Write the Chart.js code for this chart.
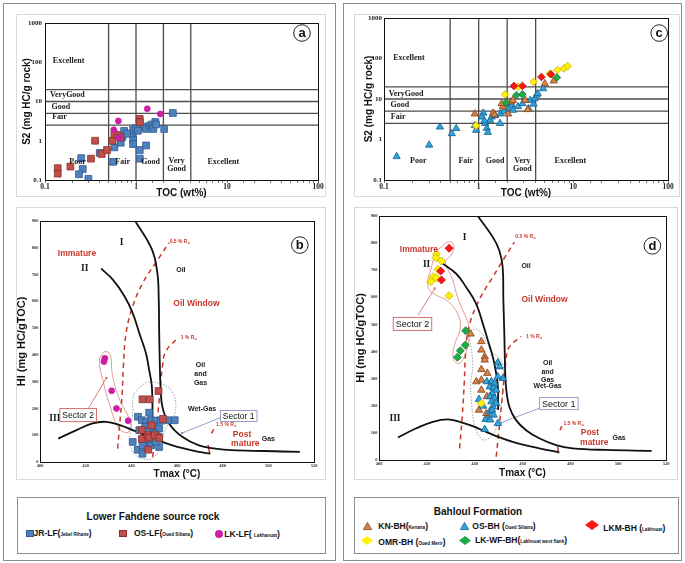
<!DOCTYPE html>
<html><head><meta charset="utf-8">
<script src="https://cdn.jsdelivr.net/npm/chart.js@4.4.1/dist/chart.umd.min.js"></script>
<style>
html,body{margin:0;padding:0;background:#fff}
#wrap{position:relative;width:685px;height:563px;overflow:hidden;font-family:Arial,"Liberation Sans",sans-serif}
canvas{position:absolute;left:0;top:0}
.bx{position:absolute;box-sizing:border-box}
.t{position:absolute;white-space:nowrap;font-weight:bold;color:#111;line-height:1;font-size:8.5px}
.s{font-size:4.6px}
svg.m{position:absolute;overflow:visible}
</style></head><body><div id="wrap">
<div class="bx" style="left:3px;top:3px;width:333px;height:558px;border:1px solid #8c8c8c"></div>
<div class="bx" style="left:343px;top:3px;width:339px;height:558px;border:1px solid #8c8c8c"></div>
<div class="bx" style="left:16px;top:14px;width:310px;height:183px;border:1px solid #dadada"></div>
<div class="bx" style="left:16px;top:207px;width:310px;height:273px;border:1px solid #dadada"></div>
<div class="bx" style="left:354px;top:14px;width:326px;height:183px;border:1px solid #dadada"></div>
<div class="bx" style="left:354px;top:207px;width:324px;height:273px;border:1px solid #dadada"></div>
<div class="bx" style="left:17px;top:497px;width:309px;height:57px;border:1px solid #8f8f8f"></div>
<div class="bx" style="left:354px;top:497px;width:325px;height:57px;border:1px solid #8f8f8f"></div>

<div class="t" style="left:53px;width:200px;text-align:center;top:512px;font-size:10px">Lower Fahdene source rock</div>
<div class="bx" style="left:26px;top:529.5px;width:7.5px;height:7.5px;background:#4f81bd;border:0.8px solid #2e5b90"></div>
<div class="t" style="left:33.5px;top:529.3px">JR-LF(<span class="s">Jebel Rihane</span>)</div>
<div class="bx" style="left:119px;top:529.5px;width:7.5px;height:7.5px;background:#c0504d;border:0.8px solid #8c2d2a"></div>
<div class="t" style="left:134px;top:529.3px">OS-LF(<span class="s">Oued Siliana</span>)</div>
<div class="bx" style="left:215px;top:530px;width:8px;height:8px;background:#cc1ea4;border-radius:50%"></div>
<div class="t" style="left:224.3px;top:529.8px">LK-LF( <span class="s">Lakhaouat</span>)</div>

<div class="t" style="left:398px;width:160px;text-align:center;top:506.7px;font-size:10px">Bahloul Formation</div>
<svg class="m" style="left:362.8px;top:521.7px" width="9" height="8"><polygon points="4.5,0.4 8.6,7.6 0.4,7.6" fill="#d9824a" stroke="#7d4216" stroke-width="0.8"/></svg>
<div class="t" style="left:378.3px;top:521.7px">KN-BH(<span class="s">Kenana</span>)</div>
<svg class="m" style="left:459.5px;top:521.7px" width="9" height="8"><polygon points="4.5,0.4 8.6,7.6 0.4,7.6" fill="#2aa6e0" stroke="#1b5a86" stroke-width="0.8"/></svg>
<div class="t" style="left:472.3px;top:521.7px">OS-BH (<span class="s">Oued Siliana</span>)</div>
<svg class="m" style="left:584.7px;top:520px" width="14" height="10"><polygon points="7,0 14,5 7,10 0,5" fill="#ff1414"/></svg>
<div class="t" style="left:603.3px;top:524.3px">LKM-BH (<span class="s">Lakhouat</span>)</div>
<svg class="m" style="left:361.3px;top:535.5px" width="12" height="9"><polygon points="6,0 12,4.5 6,9 0,4.5" fill="#fff200"/></svg>
<div class="t" style="left:378.3px;top:537.8px">OMR-BH (<span class="s">Oued Merir</span>)</div>
<svg class="m" style="left:459px;top:535.5px" width="12" height="9"><polygon points="6,0 12,4.5 6,9 0,4.5" fill="#1faa48"/></svg>
<div class="t" style="left:475px;top:536.3px">LK-WF-BH(<span class="s">Lakhouat west flank</span>)</div>

<canvas id="ca" width="685" height="563"></canvas>
<canvas id="cb" width="685" height="563"></canvas>
<canvas id="cc" width="685" height="563"></canvas>
<canvas id="cd" width="685" height="563"></canvas>
</div>
<script>
// ---------- Panel a : S2 vs TOC (Lower Fahdene) ----------
const aJR_TOC = [0.25,0.26,0.236,0.30,0.40,0.56,0.58,0.68,0.70,0.74,0.71,0.91,0.93,1.0,0.93,0.93,1.1,1.1,1.29,1.22,1.29,1.43,1.5,1.55,1.63,1.66,2.04,2.54,0.80,1.05];
const aJR_S2  = [0.36,0.19,0.14,0.107,0.49,0.29,0.68,0.89,1.23,1.78,1.3,1.55,1.9,2.1,1.06,0.82,0.58,0.35,0.76,2.3,2.0,2.4,2.6,2.0,3.0,2.6,2.0,5.1,1.5,1.8];
const aOS_TOC = [0.138,0.138,0.19,0.32,0.355,0.42,0.48,0.55,0.58,0.63,0.67,1.1,1.1];
const aOS_S2  = [0.2,0.145,0.22,0.35,1.0,0.46,0.58,1.0,1.45,1.4,1.2,3.6,3.0];
const aLK_TOC = [0.57,0.64,0.65,1.33,1.85];
const aLK_S2  = [1.9,3.2,1.2,6.5,4.8];

// ---------- Panel c : S2 vs TOC (Bahloul) ----------
const cOS_TOC = [0.136,0.30,0.39,0.52,0.58,0.91,0.94,1.12,1.08,1.17,1.22,1.25,1.32,1.37,1.7,1.68,1.98,2.05,2.24,2.3,2.9,3.35,3.5,3.8,3.9,4.1,4.2,4.8,1.5,1.85,2.6,1.15];
const cOS_S2  = [0.38,0.73,2.04,1.4,1.87,2.2,1.7,4.5,3.6,2.5,1.9,1.5,3.0,3.6,4.3,2.5,7.7,5.8,7.1,5.3,7.7,5.8,9.3,7.5,10.2,12.5,13.7,18,3.9,5.0,6.5,2.9];
const cKN_TOC = [0.91,1.42,1.47,1.8,2.05,2.2,3.1,3.3,5.0,6.2,1.75,2.3];
const cKN_S2  = [4.3,4.5,4.1,6.4,4.3,8.5,9.3,5.5,24,28,7.7,9.3];
const cOMR_TOC = [0.94,1.9,2.6,3.8,5.6,6.8,7.97,8.7];
const cOMR_S2  = [2.2,13,20,26.5,42,51.8,57,65];
const cLKM_TOC = [2.36,2.9,4.6,5.8];
const cLKM_S2  = [21,21,35,41];
const cLKWF_TOC = [2.5,2.9,1.94,6.7];
const cLKWF_S2  = [12.4,13,8.1,34];

// ---------- Panel b : HI vs Tmax (Lower Fahdene) ----------
const bJR_T  = [442.9,444.6,446.4,448.6,450.7,452.9,456.2,459.0,443.5,446.1,447.8,449.6,450.7,452.2,440.6,442.8,444.9,446.4,449.0,450.0,451.9,452.2,446.1,448.6,444.9,450.7,447.1,447.8];
const bJR_HI = [169,156,150,156,154,154,156,156,119,131,119,131,119,125,75,46,31,56,81,106,94,56,81,62,62,75,112,184];
const bOS_T  = [444.9,448.0,451.9,453.9,444.6,444.6,447.1,447.8,450.3,452.2,448.8,447.4];
const bOS_HI = [234,234,265,161,119,86,100,91,100,90,137,46];
const bLK_T  = [428.4,428.0,431.4,433.5,438.6];
const bLK_HI = [387,375,266,200,154];

// ---------- Panel d : HI vs Tmax (Bahloul) ----------
const dKN_T  = [438.3,442.8,442.8,444.2,444.2,442.8,445.3,440.7,442.8,442.8,445.1,441.8,445.1,444.9];
const dKN_HI = [465,437,406,381,369,334,320,289,295,258,234,184,154,172];
const dOS_T  = [449.7,450.4,451.8,449.7,445.1,447,448.3,446.3,447.9,449,447.4,446.3,448.3,447,449,447.6,441.8,443.5,446.3,447.9,444.6,446.5,449.7,444.2,447.3];
const dOS_HI = [359,344,301,307,289,289,283,270,265,258,246,234,228,215,209,197,224,199,178,166,150,148,135,113,185];
const dOMR_T  = [424,423.8,426.1,424.7,422.6,424,421.7,429.3,442.8];
const dOMR_HI = [759,746,734,703,676,672,658,606,209];
const dLKM_T  = [429.3,425.8,426.1];
const dLKM_HI = [781,697,664];
const dLKWF_T  = [436.25,436.1,434,432.8];
const dLKWF_HI = [477,424,403,379];

// ---------- Kerogen type / maturity reference curves ----------
const bTypeI_T  = [441.7,449,451.4,452,452.2,452.5,452.8,453.6,456.5,462.3,469.6,476.8,484,498.6,513.8];
const bTypeI_HI = [900,794,706,606,481,356,281,206,144,94,62,50,44,41,37.5];
const bTypeII_T  = [426.8,431.9,437,440.6,443.5,446.4,447.8,449,449.3];
const bTypeII_HI = [722,681,619,556,481,406,344,281,169];
const bTypeIII_T  = [408,416,423,429,435,440.6,447.8,458,469.6,474.6];
const bTypeIII_HI = [87.5,119,144,150,137.5,119,94,62,37.5,31];
const bRo05_T  = [434,434.8,436,436.5,437.7,440.6,445,450.7,456.5];
const bRo05_HI = [50,131,256,356,481,581,669,744,819];
const bRo10_T  = [449.3,450.7,452.2,453.6,455,459.4];
const bRo10_HI = [19,106,231,356,412,456];
const bRo15a_T = [473.6,474.3], bRo15a_HI = [64,32];
const bRo15b_T = [475.1,476.1], bRo15b_HI = [107,122];
const bSec2_T  = [426.1,428.3,430.7,431.6,433.3,435.9,438.8,440,438.4,435.1,432.6,431.2,429.3,427.5,426.1,426.1];
const bSec2_HI = [388,412,403,331,269,213,169,132,110,120,157,195,245,307,357,388];
const bSec1_T  = [441.3,446.4,452.2,457.3,459.4,458.7,455.8,454.3,452.9,451.4,447.8,442.7,439.9,439.4,440.6,440.6,441.3];
const bSec1_HI = [257,296,294,269,225,169,138,107,70,32,10,20,51,107,182,232,257];

const dTypeI_T  = [441.3,447.6,450.3,451.7,452,452.4,452.7,453.1,454.5,457.3,461.5,467,474,481,494.9,514];
const dTypeI_HI = [900,822,773,712,589,466,344,270,196,147,110,80,55,43,37,34];
const dTypeII_T  = [426.7,432.3,436.4,440.6,443.4,445.5,447.6,449,449.7,449.8];
const dTypeII_HI = [724,687,638,577,503,442,380,319,270,184];
const dTypeIII_T  = [407.9,415.6,422.5,428.8,433.7,439.2,446.2,455.9,467,475.4];
const dTypeIII_HI = [83,117,141,150,141,125,98,67,43,28];
const dRo05_T  = [433.7,434.8,435.7,436.2,437.6,441.8,447.6,453.1,456.6];
const dRo05_HI = [43,160,294,393,491,589,675,755,804];
const dRo10_T  = [449,450.3,451.7,453.1,454.5,459.4];
const dRo10_HI = [12,123,245,368,417,456];
const dRo15a_T = [474.7,475], dRo15a_HI = [49,25];
const dRo15b_T = [475.7,476.4], dRo15b_HI = [110,125];
const dSec2_T  = [423.2,427.8,430.2,431.3,430.2,427.8,429.2,430.9,432.5,435,437.1,437.8,437.1,435.7,433.7,431.6,430.9,432,433.7,433.9,431.6,428.1,423.9,420.9,420.4,421.8,422.8,423.2];
const dSec2_HI = [762,799,805,787,756,732,695,664,609,553,510,467,418,381,357,363,393,436,473,516,559,590,608,629,663,706,743,762];
const dSec1_T  = [437.1,440.4,442.9,445,447.1,450.4,452.1,451.7,450.8,449.2,446.7,443.8,441.3,439.6,438.8,438.3,439.2,438.3,437.1];
const dSec1_HI = [468,483,468,435,398,376,339,258,184,122,85,74,96,140,203,277,350,424,468];

// ---------- tick label sets ----------
const tocDecades = [0.1,1,10,100];
const s2Decades = [0.1,1,10,100,1000];
const tocBounds = [0.5,1,2,4];     // Poor/Fair/Good/Very Good/Excellent (TOC)
const s2Bounds  = [2.5,5,10,20];   // Fair/Good/VeryGood/Excellent (S2)

// ---------------------------------------------------------
const W = 685, H = 563;
const zip = (xs, ys) => xs.map((v, i) => ({x: v, y: ys[i]}));
const SERIF = '"Liberation Serif","Times New Roman",serif';
const SANS = 'Arial,"Liberation Sans",sans-serif';
const RED = '#c8372d';

function pts(label, xs, ys, style, r, fill, stroke) {
  return {label, data: zip(xs, ys), pointStyle: style, pointRadius: r, pointBackgroundColor: fill,
          pointBorderColor: stroke, pointBorderWidth: 0.8, showLine: false, order: 0};
}
function curve(xs, ys, color, width, dash, tension) {
  return {data: zip(xs, ys), showLine: true, pointRadius: 0, borderColor: color, borderWidth: width,
          borderDash: dash || [], tension: tension === undefined ? 0.4 : tension, fill: false, order: 5};
}

function decoPlugin(d) {
  return {
    id: 'deco',
    beforeDatasetsDraw(chart) {
      const {ctx, chartArea: a, scales: {x, y}} = chart;
      ctx.save();
      ctx.strokeStyle = '#4d4d4d'; ctx.lineWidth = 1.3;
      (d.vLines || []).forEach(v => { const p = x.getPixelForValue(v); ctx.beginPath(); ctx.moveTo(p, a.top); ctx.lineTo(p, a.bottom); ctx.stroke(); });
      (d.hLines || []).forEach(v => { const p = y.getPixelForValue(v); ctx.beginPath(); ctx.moveTo(a.left, p); ctx.lineTo(a.right, p); ctx.stroke(); });
      (d.links || []).forEach(l => {
        const x1 = x.getPixelForValue(l.x1), y1 = y.getPixelForValue(l.y1), x2 = x.getPixelForValue(l.x2), y2 = y.getPixelForValue(l.y2);
        ctx.strokeStyle = l.c; ctx.lineWidth = 0.8; ctx.beginPath(); ctx.moveTo(x1, y1); ctx.lineTo(x2, y2); ctx.stroke();
        ctx.fillStyle = l.c; ctx.fillRect(x2 - 1, y2 - 1, 2, 2);
      });
      ctx.restore();
    },
    afterDatasetsDraw(chart) {
      const {ctx, chartArea: a, scales: {x, y}} = chart;
      ctx.save();
      ctx.strokeStyle = '#111'; ctx.lineWidth = 1;
      ctx.strokeRect(Math.round(a.left) + 0.5, Math.round(a.top) + 0.5, Math.round(a.right - a.left), Math.round(a.bottom - a.top));
      ctx.textBaseline = 'middle';
      (d.texts || []).forEach(t => {
        ctx.font = t.f; ctx.fillStyle = t.c || '#1a1a1a'; ctx.textAlign = t.a || 'center';
        const px = x.getPixelForValue(t.x), py = y.getPixelForValue(t.y);
        ctx.fillText(t.t, px, py);
        if (t.sub) {
          const w = ctx.measureText(t.t).width;
          ctx.font = t.subf; ctx.textAlign = 'left';
          ctx.fillText(t.sub, (t.a === 'left' ? px + w : px + w / 2) + 0.3, py + 1.6);
        }
      });
      (d.boxes || []).forEach(b => {
        ctx.font = b.f; ctx.textAlign = 'center';
        const px = x.getPixelForValue(b.x), py = y.getPixelForValue(b.y);
        const w = ctx.measureText(b.t).width + 5, h = b.h;
        ctx.fillStyle = '#fff'; ctx.fillRect(px - w / 2, py - h / 2, w, h);
        ctx.strokeStyle = b.c; ctx.lineWidth = 0.9; ctx.strokeRect(px - w / 2, py - h / 2, w, h);
        ctx.fillStyle = '#111'; ctx.fillText(b.t, px, py + 0.5);
      });
      if (d.letter) {
        const L = d.letter, px = x.getPixelForValue(L.x), py = y.getPixelForValue(L.y);
        ctx.beginPath(); ctx.arc(px, py, 8.3, 0, Math.PI * 2); ctx.fillStyle = '#fff'; ctx.fill();
        ctx.strokeStyle = '#222'; ctx.lineWidth = 1; ctx.stroke();
        ctx.fillStyle = '#111'; ctx.font = 'bold 13px ' + SANS; ctx.textAlign = 'center'; ctx.fillText(L.t, px, py + 0.5);
      }
      ctx.restore();
    }
  };
}

function panel(id, area, yw, xh, sx, sy, datasets, deco) {
  return new Chart(document.getElementById(id), {
    type: 'scatter',
    data: {datasets},
    options: {
      responsive: false, animation: false, devicePixelRatio: 1, events: [],
      layout: {padding: {left: area.l - yw, top: area.t, right: W - area.r, bottom: H - area.b - xh}},
      plugins: {legend: {display: false}, tooltip: {enabled: false}},
      scales: {
        x: Object.assign(sx, {afterFit: s => { s.height = xh; }}),
        y: Object.assign(sy, {afterFit: s => { s.width = yw; }})
      }
    },
    plugins: [decoPlugin(deco)]
  });
}

const decadeCb = list => v => { const m = list.find(d => Math.abs(d - v) / d < 1e-6); return m === undefined ? '' : String(m); };
function logX(title) {
  return {type: 'logarithmic', min: 0.1, max: 100, position: 'bottom',
    ticks: {autoSkip: false, maxRotation: 0, padding: 0, color: '#222', font: {family: SERIF, weight: 'bold', size: 7.5}, callback: decadeCb(tocDecades)},
    grid: {display: true, drawOnChartArea: false, drawTicks: true, tickLength: 3, color: '#555', lineWidth: 0.8},
    border: {display: false},
    title: {display: true, text: title, color: '#111', font: {family: SANS, weight: 'bold', size: 10}, padding: 0}};
}
function logY(title, pad) {
  return {type: 'logarithmic', min: 0.1, max: 1000, position: 'left',
    ticks: {autoSkip: false, padding: pad, color: '#222', font: {family: SERIF, weight: 'bold', size: 7}, callback: decadeCb(s2Decades)},
    grid: {display: false, drawTicks: false}, border: {display: false},
    title: {display: true, text: title, color: '#111', font: {family: SANS, weight: 'bold', size: 10}, padding: 0}};
}
function linX() {
  return {type: 'linear', min: 400, max: 520, position: 'bottom',
    ticks: {stepSize: 20, autoSkip: false, maxRotation: 0, padding: 1.5, color: '#333', font: {family: SERIF, weight: 'bold', size: 4.5}},
    grid: {display: false, drawTicks: false}, border: {display: false},
    title: {display: true, text: 'Tmax (°C)', color: '#111', font: {family: SANS, weight: 'bold', size: 10}, padding: 0}};
}
function linY() {
  return {type: 'linear', min: 0, max: 900, position: 'left',
    ticks: {stepSize: 100, autoSkip: false, padding: 1.5, color: '#333', font: {family: SERIF, weight: 'bold', size: 4.5}},
    grid: {display: false, drawTicks: false}, border: {display: false},
    title: {display: true, text: 'HI (mg HC/gTOC)', color: '#111', font: {family: SANS, weight: 'bold', size: 11}, padding: 0}};
}

const F_REG = 'bold 8px ' + SERIF;
function classTexts(p) {
  return p.map(q => ({t: q[0], x: q[1], y: q[2], a: q[3] || 'center', f: F_REG}));
}
const roF = 'bold 5px ' + SANS, roSub = 'bold 3.5px ' + SANS;
const redF = 'bold 8.5px ' + SANS, blkF = 'bold 7px ' + SANS, romF = 'bold 9.5px ' + SERIF;

// ---- Panel a ----
panel('ca', {l: 45, t: 23, r: 318, b: 180}, 24, 19, logX('TOC (wt%)'), logY('S2 (mg HC/g rock)', 3), [
  pts('LK-LF', aLK_TOC, aLK_S2, 'circle', 3, '#cc1ea4', '#cc1ea4'),
  pts('OS-LF', aOS_TOC, aOS_S2, 'rect', 4.8, '#c0504d', '#8c2d2a'),
  pts('JR-LF', aJR_TOC, aJR_S2, 'rect', 4.8, '#4f81bd', '#2e5b90')
], {
  vLines: tocBounds, hLines: s2Bounds,
  texts: classTexts([['Excellent', 0.122, 105, 'left'], ['VeryGood', 0.1135, 14.7, 'left'], ['Good', 0.118, 7.4, 'left'], ['Fair', 0.12, 3.95, 'left'],
    ['Poor', 0.228, 0.29], ['Fair', 0.714, 0.29], ['Good', 1.45, 0.29], ['Very', 2.8, 0.30], ['Good', 2.8, 0.19], ['Excellent', 9.1, 0.29]]),
  letter: {t: 'a', x: 66.7, y: 556}
});

// ---- Panel c ----
panel('cc', {l: 384, t: 18, r: 668, b: 180}, 21, 19, logX('TOC (wt%)'), logY('S2 (mg HC/g rock)', 2), [
  pts('LKM-BH', cLKM_TOC, cLKM_S2, 'rectRot', 3.8, '#ff1414', '#c00000'),
  pts('LK-WF-BH', cLKWF_TOC, cLKWF_S2, 'rectRot', 3.8, '#1faa48', '#137a30'),
  pts('OMR-BH', cOMR_TOC, cOMR_S2, 'rectRot', 3.8, '#fff200', '#c9b400'),
  pts('KN-BH', cKN_TOC, cKN_S2, 'triangle', 4.2, '#d9824a', '#7d4216'),
  pts('OS-BH', cOS_TOC, cOS_S2, 'triangle', 4.2, '#2aa6e0', '#1b5a86')
], {
  vLines: tocBounds, hLines: s2Bounds,
  texts: classTexts([['Excellent', 0.125, 106, 'left'], ['VeryGood', 0.112, 13.7, 'left'], ['Good', 0.117, 7.0, 'left'], ['Fair', 0.118, 3.6, 'left'],
    ['Poor', 0.23, 0.29], ['Fair', 0.73, 0.29], ['Good', 1.49, 0.29], ['Very', 2.9, 0.30], ['Good', 2.9, 0.19], ['Excellent', 9.3, 0.29]]),
  letter: {t: 'c', x: 80.7, y: 425}
});

// ---- Panel b ----
const roDash = [5, 4];
panel('cb', {l: 40, t: 221, r: 314, b: 462}, 25, 18, linX(), linY(), [
  pts('LK-LF', bLK_T, bLK_HI, 'circle', 3, '#cc1ea4', '#cc1ea4'),
  pts('OS-LF', bOS_T, bOS_HI, 'rect', 4.8, '#c0504d', '#8c2d2a'),
  pts('JR-LF', bJR_T, bJR_HI, 'rect', 4.8, '#4f81bd', '#2e5b90'),
  curve(bTypeI_T, bTypeI_HI, '#111', 1.8),
  curve(bTypeII_T, bTypeII_HI, '#111', 1.8),
  curve(bTypeIII_T, bTypeIII_HI, '#111', 1.8),
  curve(bRo05_T, bRo05_HI, RED, 1.5, roDash),
  curve(bRo10_T, bRo10_HI, RED, 1.5, roDash),
  curve(bRo15a_T, bRo15a_HI, RED, 1.5, [], 0),
  curve(bRo15b_T, bRo15b_HI, RED, 1.5, [], 0),
  curve(bSec2_T, bSec2_HI, '#d9706a', 0.7, [], 0.35),
  curve(bSec1_T, bSec1_HI, '#999', 0.9, [1.5, 1.5], 0.35)
], {
  links: [{x1: 418.7, y1: 164, x2: 429.1, y2: 314, c: '#d0605a'}, {x1: 480.9, y1: 172, x2: 462.2, y2: 108, c: '#7b86bd'}],
  texts: [
    {t: 'I', x: 435.7, y: 821, f: romF}, {t: 'II', x: 419.6, y: 721, f: romF}, {t: 'III', x: 406.5, y: 164, f: romF},
    {t: 'Immature', x: 416.2, y: 777, f: redF, c: RED},
    {t: 'Oil', x: 461.7, y: 717, f: blkF},
    {t: 'Oil Window', x: 468.5, y: 590, f: redF, c: RED},
    {t: 'Oil', x: 470.3, y: 362, f: blkF}, {t: 'and', x: 470.3, y: 329, f: blkF}, {t: 'Gas', x: 470.3, y: 296, f: blkF},
    {t: 'Wet-Gas', x: 471, y: 199, f: blkF},
    {t: 'Post', x: 488.5, y: 103, f: redF, c: RED}, {t: 'mature', x: 489.9, y: 67, f: redF, c: RED},
    {t: 'Gas', x: 500, y: 86, f: blkF},
    {t: '0.5 % R', sub: 'o', x: 456.8, y: 822, a: 'left', f: roF, subf: roSub, c: RED},
    {t: '1 % R', sub: 'o', x: 461.6, y: 466, a: 'left', f: roF, subf: roSub, c: RED},
    {t: '1.5 % R', sub: 'o', x: 477.1, y: 141, a: 'left', f: roF, subf: roSub, c: RED}
  ],
  boxes: [{t: 'Sector 2', x: 416.7, y: 175, f: '8.5px ' + SANS, h: 13, c: '#d0605a'},
          {t: 'Sector 1', x: 487, y: 172, f: '8.5px ' + SANS, h: 11, c: '#8b93c4'}],
  letter: {t: 'b', x: 513.8, y: 810}
});

// ---- Panel d ----
panel('cd', {l: 379, t: 216, r: 666, b: 460}, 25, 19, linX(), linY(), [
  pts('LKM-BH', dLKM_T, dLKM_HI, 'rectRot', 4, '#ff1414', '#c00000'),
  pts('OMR-BH', dOMR_T, dOMR_HI, 'rectRot', 4, '#fff200', '#c9b400'),
  pts('LK-WF-BH', dLKWF_T, dLKWF_HI, 'rectRot', 4, '#1faa48', '#137a30'),
  pts('OS-BH', dOS_T, dOS_HI, 'triangle', 4.3, '#2aa6e0', '#1b5a86'),
  pts('KN-BH', dKN_T, dKN_HI, 'triangle', 4.3, '#d9824a', '#7d4216'),
  curve(dTypeI_T, dTypeI_HI, '#111', 1.8),
  curve(dTypeII_T, dTypeII_HI, '#111', 1.8),
  curve(dTypeIII_T, dTypeIII_HI, '#111', 1.8),
  curve(dRo05_T, dRo05_HI, RED, 1.5, roDash),
  curve(dRo10_T, dRo10_HI, RED, 1.5, roDash),
  curve(dRo15a_T, dRo15a_HI, RED, 1.5, [], 0),
  curve(dRo15b_T, dRo15b_HI, RED, 1.5, [], 0),
  curve(dSec2_T, dSec2_HI, '#d9706a', 0.7, [], 0.35),
  curve(dSec1_T, dSec1_HI, '#999', 0.9, [1.5, 1.5], 0.35)
], {
  links: [{x1: 416.4, y1: 535, x2: 423.3, y2: 633, c: '#d0605a'}, {x1: 467.1, y1: 191, x2: 451.1, y2: 138, c: '#7b86bd'}],
  texts: [
    {t: 'I', x: 435.8, y: 821, f: romF}, {t: 'II', x: 419.9, y: 722, f: romF}, {t: 'III', x: 406.7, y: 154, f: romF},
    {t: 'Immature', x: 416.7, y: 777, f: redF, c: RED},
    {t: 'Oil', x: 461.5, y: 717, f: blkF},
    {t: 'Oil Window', x: 469.2, y: 590, f: redF, c: RED},
    {t: 'Oil', x: 470.5, y: 357, f: blkF}, {t: 'and', x: 470.5, y: 326, f: blkF}, {t: 'Gas', x: 470.5, y: 295, f: blkF},
    {t: 'Wet-Gas', x: 470.5, y: 274, f: blkF},
    {t: 'Post', x: 488.2, y: 101, f: redF, c: RED}, {t: 'mature', x: 490, y: 64, f: redF, c: RED},
    {t: 'Gas', x: 500.4, y: 82, f: blkF},
    {t: '0.5 % R', sub: 'o', x: 457, y: 824, a: 'left', f: roF, subf: roSub, c: RED},
    {t: '1 % R', sub: 'o', x: 461.5, y: 455, a: 'left', f: roF, subf: roSub, c: RED},
    {t: '1.5 % R', sub: 'o', x: 477.1, y: 135, a: 'left', f: roF, subf: roSub, c: RED}
  ],
  boxes: [{t: 'Sector 2', x: 414, y: 502, f: '9px ' + SANS, h: 13, c: '#d0605a'},
          {t: 'Sector 1', x: 475.2, y: 208, f: '9px ' + SANS, h: 12, c: '#8b93c4'}],
  letter: {t: 'd', x: 514.3, y: 790}
});
</script>
</body></html>
